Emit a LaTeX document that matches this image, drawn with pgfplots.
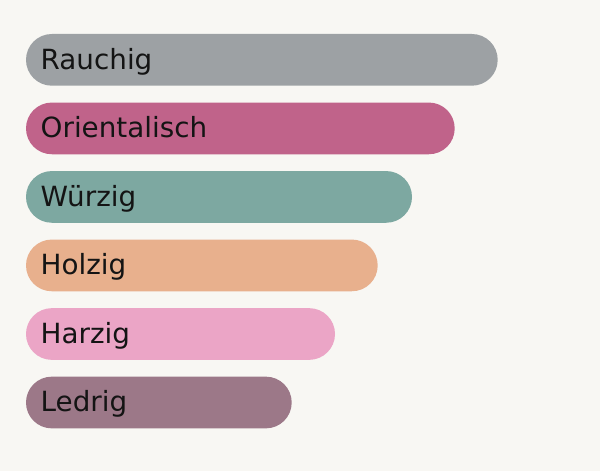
\documentclass[border=0pt]{standalone}
\usepackage{fontspec}
\setmainfont{DejaVu Sans}
\usepackage{pgfplots}
\pgfplotsset{compat=1.18}
\definecolor{bgc}{HTML}{F8F7F3}
\definecolor{cA}{HTML}{9DA1A4}
\definecolor{cB}{HTML}{C0638A}
\definecolor{cC}{HTML}{7DA8A1}
\definecolor{cD}{HTML}{E8B08D}
\definecolor{cE}{HTML}{EBA5C6}
\definecolor{cF}{HTML}{9C7888}
\definecolor{txt}{HTML}{141414}
\begin{document}
\begin{tikzpicture}
\begin{axis}[
  scale only axis,
  width=600bp, height=471bp,
  xmin=-26, xmax=574,
  ymin=0, ymax=471,
  y dir=reverse,
  enlargelimits=false,
  axis line style={draw=none},
  ticks=none,
  axis background/.style={fill=bgc},
  xbar, bar width=51.7bp, bar shift=0pt,
  every axis plot/.append style={draw=none, rounded corners=25.8bp},
  clip=false,
]
\addplot[fill=cA] coordinates {(471.7,59.85)};
\addplot[fill=cB] coordinates {(428.7,128.4)};
\addplot[fill=cC] coordinates {(386.0,196.9)};
\addplot[fill=cD] coordinates {(351.7,265.4)};
\addplot[fill=cE] coordinates {(309.0,334.0)};
\addplot[fill=cF] coordinates {(265.7,402.5)};
\begin{scope}[every node/.style={anchor=base west, inner sep=0pt, text=txt, font=\fontsize{27.8bp}{33bp}\selectfont}]
\node at (axis cs:14.5,69.3) {Rauchig};
\node at (axis cs:14.5,137.8) {Orientalisch};
\node at (axis cs:14.5,206.3) {Würzig};
\node at (axis cs:14.5,274.8) {Holzig};
\node at (axis cs:14.5,343.4) {Harzig};
\node at (axis cs:14.5,411.9) {Ledrig};
\end{scope}
\end{axis}
\end{tikzpicture}
\end{document}
